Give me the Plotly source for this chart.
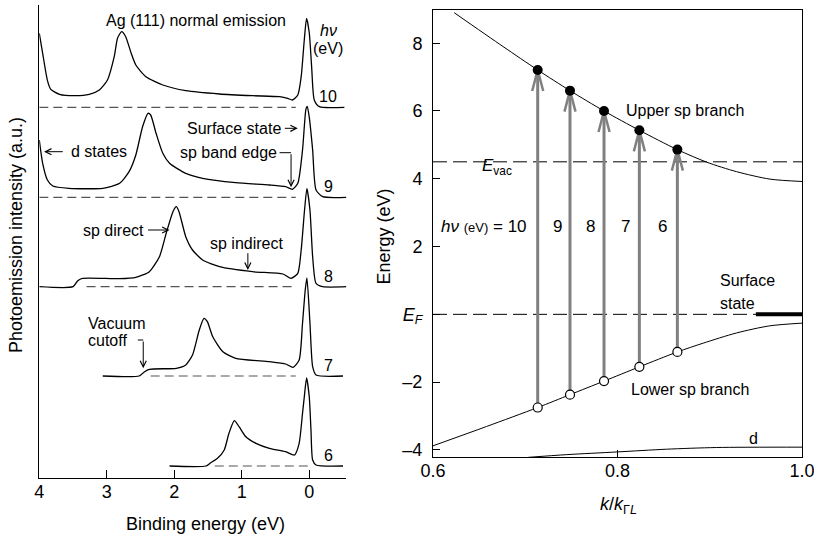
import plotly.graph_objects as go

FONT = "Liberation Sans, Arial, sans-serif"

# ---------------- Left panel data: Ag(111) normal-emission spectra ----------------
hv_labels = ["10", "9", "8", "7", "6"]
offsets = [370.7, 280.7, 191.3, 102.0, 12.0]          # vertical offset of each spectrum
base_start = [4.0, 4.0, 3.3, 2.35, 1.4]                # dashed baseline extent (binding energy)
base_end = [0.2, 0.2, 0.2, 0.2, 0.0]

E10 = [4.0, 3.95, 3.88, 3.83, 3.70, 3.46, 3.26, 3.11, 2.99, 2.89, 2.84, 2.78, 2.72, 2.64, 2.57,
       2.42, 2.17, 1.83, 1.33, 0.84, 0.44, 0.32, 0.25, 0.17, 0.12, 0.074, 0.04, 0.0, -0.035,
       -0.074, -0.15, -0.52]
I10 = [74, 54, 27, 18, 13, 11.6, 13, 17.3, 27.3, 50.6, 69.3, 75.6, 70.6, 54.3, 42.3,
       30.6, 22.3, 16.6, 13.3, 11.6, 10.6, 9, 7.3, 12.3, 30.6, 67.3, 89, 74.3, 40.6,
       7.3, 0.6, 0]

E9 = [4.0, 3.95, 3.88, 3.80, 3.56, 3.06, 2.81, 2.67, 2.57, 2.47, 2.39, 2.35, 2.27, 2.17, 2.07,
      1.83, 1.58, 1.09, 0.59, 0.35, 0.25, 0.17, 0.10, 0.05, 0.03, 0.0, -0.05, -0.1, -0.2, -0.55]
I9 = [57.3, 34, 17.3, 11.3, 9, 9, 14, 25.6, 42.3, 70.6, 84, 82.3, 64, 44, 34,
      24, 19, 14.6, 12.3, 10.6, 8, 14, 47.3, 88, 91, 80, 47.3, 7.3, 0.6, 0]

E8 = [4.0, 3.5, 3.43, 3.36, 2.81, 2.57, 2.37, 2.22, 2.12, 2.02, 1.97, 1.93, 1.83, 1.73, 1.58,
      1.33, 0.84, 0.39, 0.27, 0.17, 0.12, 0.07, 0.035, -0.01, -0.05, -0.1, -0.2, -0.55]
I8 = [0, 0, 6, 8.4, 8, 9.4, 15, 30, 53.4, 75, 80, 75, 50, 36.7, 26.7,
      20, 15, 12.7, 8.4, 13.4, 36.7, 76.7, 98, 76.7, 30, 3.4, 0, 0]

E7 = [3.06, 2.52, 2.44, 2.37, 1.97, 1.83, 1.73, 1.63, 1.56, 1.51, 1.43, 1.28, 1.09, 0.59, 0.35,
      0.24, 0.15, 0.10, 0.06, 0.035, -0.01, -0.05, -0.1, -0.5]
I7 = [0, 0, 4.3, 6.7, 7.7, 11, 21, 46, 57.7, 54.3, 39.3, 24.3, 17.7, 14.3, 12,
      8.7, 16, 52.7, 86, 98, 53, 9.3, 1, 0]

E6 = [2.07, 1.53, 1.46, 1.36, 1.26, 1.19, 1.11, 1.04, 0.94, 0.79, 0.59, 0.35, 0.22, 0.15, 0.10,
      0.074, 0.04, 0.0, -0.025, -0.05, -0.1, -0.5]
I6 = [0, 0, 3.3, 7.7, 16, 32.7, 45.3, 39.3, 29.3, 22.7, 17.7, 14.3, 11, 22.7, 52.7,
      69, 88, 69, 36, 6, 1, 0]

spec_E = [E10, E9, E8, E7, E6]
spec_I = [I10, I9, I8, I7, I6]

# ---------------- Right panel data: band structure ----------------
hv = [10, 9, 8, 7, 6]
k_tr = [0.7135, 0.7485, 0.7854, 0.8237, 0.8649]
E_final = [7.21, 6.60, 6.00, 5.43, 4.86]
E_initial = [-2.75, -2.37, -1.97, -1.55, -1.11]

k_upper = [0.623, 0.676, 0.7135, 0.7485, 0.7854, 0.8237, 0.8649, 0.8967, 0.929, 0.9653, 1.0]
E_upper = [8.90, 7.90, 7.21, 6.60, 6.00, 5.43, 4.86, 4.49, 4.21, 3.99, 3.92]
k_lower = [0.6, 0.658, 0.7135, 0.7485, 0.7854, 0.8237, 0.8649, 0.893, 0.929, 0.965, 1.0]
E_lower = [-3.88, -3.31, -2.75, -2.37, -1.97, -1.55, -1.11, -0.85, -0.55, -0.34, -0.26]
k_d = [0.7033, 0.745, 0.8002, 0.853, 0.9075, 1.0]
E_d = [-4.22, -4.14, -4.06, -3.98, -3.93, -3.92]
E_vac = 4.5
E_F = 0.0
k_ss = [0.95, 1.0]
k_range = [0.6, 1.0]

fig = go.Figure()

# ---- left panel traces
for i in range(len(hv_labels)):
    fig.add_trace(go.Scatter(
        x=[base_start[i], base_end[i]], y=[offsets[i], offsets[i]], mode="lines",
        line=dict(color="#555555", width=1.2, dash="9px,5px"),
        xaxis="x", yaxis="y", showlegend=False, hoverinfo="skip"))
for i in range(len(hv_labels)):
    fig.add_trace(go.Scatter(
        x=spec_E[i], y=[offsets[i] + v for v in spec_I[i]], mode="lines",
        line=dict(color="black", width=1.3, shape="spline", smoothing=0.6),
        xaxis="x", yaxis="y", showlegend=False, hoverinfo="skip"))

# ---- right panel traces
for lev in [E_vac, E_F]:
    fig.add_trace(go.Scatter(
        x=k_range, y=[lev, lev], mode="lines",
        line=dict(color="black", width=1, dash="14px,6px"),
        xaxis="x2", yaxis="y2", showlegend=False, hoverinfo="skip"))

# transition arrows (gray)
ax_x, ax_y, hd_x, hd_y = [], [], [], []
dk, dE = 0.006, 0.62
for k, ei, ef in zip(k_tr, E_initial, E_final):
    ax_x += [k, k, None]
    ax_y += [ei, ef, None]
    hd_x += [k - dk, k, k + dk, None]
    hd_y += [ef - dE, ef, ef - dE, None]
fig.add_trace(go.Scatter(x=ax_x, y=ax_y, mode="lines", line=dict(color="#808080", width=3),
                         xaxis="x2", yaxis="y2", showlegend=False, hoverinfo="skip"))
fig.add_trace(go.Scatter(x=hd_x, y=hd_y, mode="lines", line=dict(color="#808080", width=2.5),
                         xaxis="x2", yaxis="y2", showlegend=False, hoverinfo="skip"))

for kk, ee in [(k_upper, E_upper), (k_lower, E_lower), (k_d, E_d)]:
    fig.add_trace(go.Scatter(x=kk, y=ee, mode="lines",
                             line=dict(color="black", width=1, shape="spline", smoothing=0.8),
                             xaxis="x2", yaxis="y2", showlegend=False, hoverinfo="skip"))
fig.add_trace(go.Scatter(x=k_ss, y=[E_F, E_F], mode="lines", line=dict(color="black", width=4),
                         xaxis="x2", yaxis="y2", showlegend=False, hoverinfo="skip"))
fig.add_trace(go.Scatter(x=k_tr, y=E_final, mode="markers",
                         marker=dict(color="black", size=10),
                         xaxis="x2", yaxis="y2", showlegend=False, hoverinfo="skip"))
fig.add_trace(go.Scatter(x=k_tr, y=E_initial, mode="markers",
                         marker=dict(color="white", size=9, line=dict(color="black", width=1.2)),
                         xaxis="x2", yaxis="y2", showlegend=False, hoverinfo="skip"))

ann = []
shapes = []


def txt(x, y, t, xref="x", yref="y", size=16, xanchor="center", yanchor="middle", **kw):
    ann.append(dict(x=x, y=y, xref=xref, yref=yref, text=t, showarrow=False,
                    font=dict(family=FONT, size=size, color="black"),
                    xanchor=xanchor, yanchor=yanchor, **kw))


def arrow(x0, y0, x1, y1, xref="x", yref="y"):
    ann.append(dict(x=x1, y=y1, ax=x0, ay=y0, xref=xref, yref=yref, axref=xref, ayref=yref,
                    text="", showarrow=True, arrowhead=5, arrowsize=1.2, arrowwidth=1,
                    arrowcolor="black"))


# ---- left panel annotations
txt(1.68, 458, "Ag (111) normal emission")
txt(-0.28, 448, "<i>hν</i>")
txt(-0.28, 430, "(eV)")
for lab, off in zip(hv_labels, offsets):
    txt(-0.28, off + 10.5, lab)
arrow(3.63, 326.3, 3.93, 326.3)
txt(3.56, 326.3, "d states", xanchor="left")
txt(0.394, 349.7, "Surface state", xanchor="right")
arrow(0.385, 349.7, 0.17, 349.7)
txt(0.45, 325.3, "sp band edge", xanchor="right")
shapes.append(dict(type="line", xref="x", yref="y", x0=0.44, y0=325.3, x1=0.27, y1=325.3,
                   line=dict(color="black", width=1)))
arrow(0.27, 325.3, 0.27, 290.7)
txt(2.42, 248, "sp direct", xanchor="right")
arrow(2.41, 248, 2.07, 248)
txt(0.93, 234.7, "sp indirect")
arrow(0.91, 226.3, 0.91, 208)
txt(3.31, 154.7, "Vacuum", xanchor="left")
txt(3.31, 138, "cutoff", xanchor="left")
shapes.append(dict(type="line", xref="x", yref="y", x0=2.54, y0=138, x1=2.46, y1=138,
                   line=dict(color="black", width=1)))
arrow(2.46, 138, 2.46, 109.7)

# ---- right panel annotations
txt(0.8074, 6.0, "Upper sp branch", xref="x2", yref="y2", xanchor="left")
txt(0.8128, -2.21, "Lower sp branch", xref="x2", yref="y2", xanchor="left")
txt(0.651, 4.35, "<i>E</i><sub>vac</sub>", xref="x2", yref="y2", xanchor="left", size=17)
txt(0.6068, 2.59, "<i>hν</i> <span style='font-size:13px'>(eV)</span> = 10",
    xref="x2", yref="y2", xanchor="left", size=17)
for i in range(1, len(hv)):
    txt((k_tr[i - 1] + k_tr[i]) / 2 + 0.004, 2.59, str(hv[i]), xref="x2", yref="y2", size=17)
txt(0.9093, 1.0, "Surface", xref="x2", yref="y2", xanchor="left")
txt(0.9093, 0.33, "state", xref="x2", yref="y2", xanchor="left")
txt(0.9472, -3.67, "d", xref="x2", yref="y2")

# ---- axis titles (axis-domain referenced so they do not push the margins)
txt(-0.0759, 0.5137, "Photoemission intensity (a.u.)", xref="x domain", yref="y domain",
    size=18, textangle=-90)
txt(0.5428, -0.0973, "Binding energy (eV)", xref="x domain", yref="y domain", size=18)
txt(-0.1328, 0.4933, "Energy (eV)", xref="x2 domain", yref="y2 domain", size=18,
    textangle=-90)
txt(0.5014, -0.1074, "<i>k</i>/<i>k</i><sub>Γ<i>L</i></sub>", xref="x2 domain",
    yref="y2 domain", size=18)

tickfont = dict(family=FONT, size=18, color="black")
fig.update_layout(
    width=814, height=536, margin=dict(l=0, r=0, t=0, b=0, autoexpand=False),
    paper_bgcolor="white", plot_bgcolor="white",
    font=dict(family=FONT, color="black"),
    annotations=ann, shapes=shapes,
    xaxis=dict(domain=[39.3 / 814, 346.4 / 814], range=[4, -0.55], anchor="y",
               showline=True, linecolor="black", linewidth=1, mirror=False,
               ticks="inside", ticklen=8, tickcolor="black", tickvals=[4, 3, 2, 1, 0],
               ticktext=["4", "3", "2", "1", "0"], tickfont=tickfont, automargin=False,
               ticklabeloverflow="allow",
               showgrid=False, zeroline=False, ticklabelstandoff=-3),
    yaxis=dict(domain=[58 / 536, 531 / 536], range=[0, 473], anchor="x",
               showline=True, linecolor="black", linewidth=1, ticks="",
               showticklabels=False, showgrid=False, zeroline=False, automargin=False),
    xaxis2=dict(domain=[433 / 814, 802 / 814], range=[0.6, 1.0], anchor="y2",
                showline=True, linecolor="black", linewidth=1, mirror=True,
                ticks="inside", ticklen=7, tickcolor="black", tickvals=[0.6, 0.8, 1.0],
                ticktext=["0.6", "0.8", "1.0"], tickfont=tickfont, automargin=False,
                ticklabeloverflow="allow",
                showgrid=False, zeroline=False, ticklabelstandoff=-3),
    yaxis2=dict(domain=[79 / 536, 526 / 536], range=[-4.21, 8.98], anchor="x2",
                showline=True, linecolor="black", linewidth=1, mirror=True,
                ticks="inside", ticklen=7, tickcolor="black",
                tickvals=[-4, -2, 0, 2, 4, 6, 8],
                ticktext=["–4", "–2", "<i>E<sub>F</sub></i>", "2", "4", "6", "8"],
                tickfont=tickfont, showgrid=False, zeroline=False, ticklabelstandoff=6,
                automargin=False),
)

fig.write_html("out.html")
